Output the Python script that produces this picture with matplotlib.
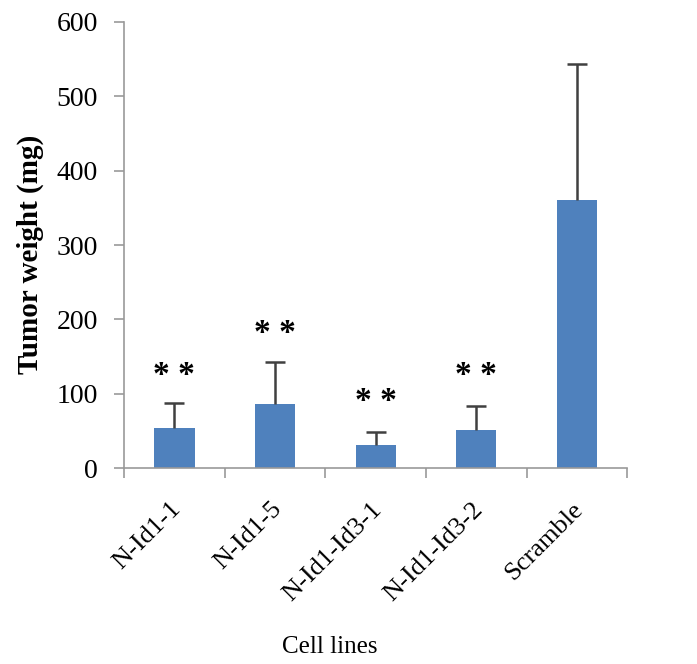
import matplotlib
matplotlib.use("Agg")
import matplotlib.pyplot as plt
import matplotlib.transforms as mtransforms
import numpy as np

cell_lines = ["N-Id1-1", "N-Id1-5", "N-Id1-Id3-1", "N-Id1-Id3-2", "Scramble"]
weight = [54, 86, 31, 51, 360]
err = [34, 57, 17, 32, 184]
marks = ["* *", "* *", "* *", "* *", ""]
mark_y = [124, 181, 89, 124, 0]

plt.rcParams["font.family"] = ["Liberation Serif", "DejaVu Serif"]

fig = plt.figure(figsize=(6.97, 6.64), dpi=100)
ax = fig.add_axes([0.178, 0.295, 0.722, 0.672])

x = np.arange(len(cell_lines))
ax.bar(x, weight, width=0.4, color="#4F81BD", zorder=2)
_, caps, _ = ax.errorbar(x, weight, yerr=[np.zeros(len(err)), err], fmt="none",
                         ecolor="#404040", elinewidth=1.8, capsize=7.5,
                         capthick=1.8, zorder=3)
caps[0].set_visible(False)  # only the upper cap, as in the original

for xi, m, my in zip(x, marks, mark_y):
    if m:
        ax.text(xi, my, m, ha="center", va="center", fontsize=24,
                fontweight="bold", color="black")

ax.set_xlim(-0.5, len(cell_lines) - 0.5)
ax.set_ylim(0, 600)
ax.set_yticks(range(0, 601, 100))
ax.tick_params(axis="y", labelsize=20, length=7, width=1.2, color="#999999", pad=12)

# category boundaries get the ticks, like the spreadsheet original
ax.set_xticks(np.arange(-0.5, len(cell_lines), 1.0))
ax.set_xticklabels([])
ax.set_xticks(x, minor=True)
ax.set_xticklabels(cell_lines, minor=True, rotation=45, ha="right",
                   rotation_mode="anchor", fontsize=19)
ax.tick_params(axis="x", which="major", length=7, width=1.2, color="#999999")
ax.tick_params(axis="x", which="minor", length=0, pad=10)
shift = mtransforms.ScaledTranslation(-5 / 100, -16 / 100, fig.dpi_scale_trans)
for lab in ax.get_xticklabels(minor=True):
    lab.set_transform(lab.get_transform() + shift)

for s in ["top", "right"]:
    ax.spines[s].set_visible(False)
for s in ["left", "bottom"]:
    ax.spines[s].set_color("#999999")
    ax.spines[s].set_linewidth(1.2)

ax.set_ylabel("Tumor weight (mg)", fontsize=21, fontweight="bold")
ax.yaxis.set_label_coords(-0.16, 0.478)
fig.text(0.473, 0.025, "Cell lines", ha="center", va="center", fontsize=18)

fig.savefig("out.png", dpi=100)
